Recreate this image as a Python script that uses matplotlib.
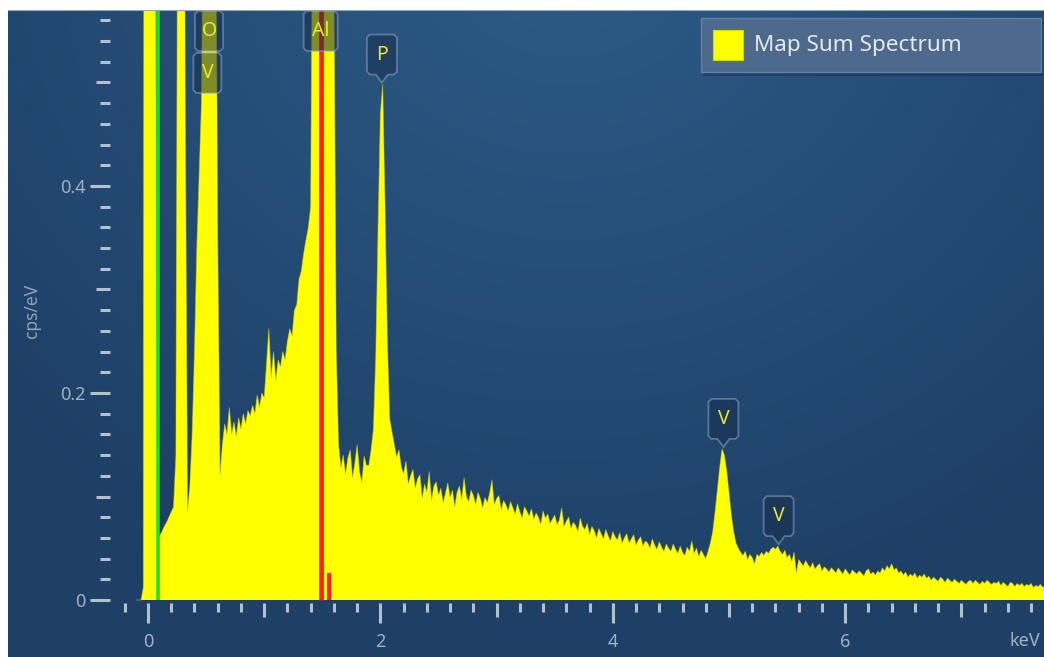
import numpy as np
import matplotlib
matplotlib.use("Agg")
import matplotlib.pyplot as plt
import matplotlib.transforms as mtransforms
from matplotlib.patches import Polygon, Rectangle, FancyBboxPatch
from matplotlib.ticker import FixedLocator

plt.rcParams['font.family'] = ['Noto Sans', 'DejaVu Sans']

# spectrum, cps/eV, one value every 0.02 keV starting at -0.10 keV
energy_start = -0.10
energy_step = 0.02
counts = [
    0.0, 0.0, 0.0, 0.012, 3.0, 5.0, 5.0, 3.0, 0.80, 0.063,
    0.062, 0.066, 0.071, 0.075, 0.080, 0.085, 0.090, 0.140, 0.90, 1.50,
    1.20, 0.50, 0.085, 0.11, 0.16, 0.24, 0.34, 0.41, 0.48, 0.75,
    1.20, 1.40, 1.30, 1.00, 0.75, 0.35, 0.12, 0.150, 0.170, 0.160,
    0.186, 0.160, 0.172, 0.158, 0.176, 0.165, 0.180, 0.170, 0.183, 0.178,
    0.188, 0.180, 0.198, 0.186, 0.200, 0.195, 0.228, 0.262, 0.215, 0.240,
    0.212, 0.232, 0.225, 0.240, 0.232, 0.250, 0.262, 0.255, 0.280, 0.285,
    0.310, 0.318, 0.335, 0.348, 0.360, 0.380, 0.75, 1.50, 3.00, 4.00,
    4.00, 3.00, 2.00, 1.50, 0.90, 0.60, 0.24, 0.150, 0.128, 0.140,
    0.121, 0.137, 0.145, 0.118, 0.132, 0.150, 0.124, 0.113, 0.139, 0.130,
    0.130, 0.145, 0.165, 0.235, 0.360, 0.470, 0.498, 0.380, 0.250, 0.175,
    0.162, 0.150, 0.138, 0.145, 0.128, 0.122, 0.134, 0.112, 0.120, 0.126,
    0.108, 0.117, 0.121, 0.098, 0.112, 0.104, 0.124, 0.096, 0.110, 0.114,
    0.101, 0.108, 0.094, 0.103, 0.113, 0.099, 0.106, 0.090, 0.104, 0.110,
    0.097, 0.118, 0.100, 0.095, 0.106, 0.101, 0.092, 0.104, 0.098, 0.089,
    0.099, 0.094, 0.103, 0.116, 0.092, 0.098, 0.101, 0.087, 0.096, 0.092,
    0.086, 0.095, 0.089, 0.083, 0.093, 0.085, 0.079, 0.090, 0.086, 0.081,
    0.088, 0.078, 0.084, 0.080, 0.073, 0.086, 0.079, 0.083, 0.074, 0.078,
    0.082, 0.073, 0.077, 0.089, 0.071, 0.076, 0.080, 0.069, 0.075, 0.072,
    0.066, 0.079, 0.071, 0.068, 0.074, 0.063, 0.071, 0.067, 0.060, 0.069,
    0.064, 0.059, 0.068, 0.062, 0.057, 0.066, 0.061, 0.058, 0.065, 0.055,
    0.060, 0.064, 0.055, 0.059, 0.063, 0.053, 0.058, 0.061, 0.052, 0.057,
    0.055, 0.050, 0.059, 0.053, 0.049, 0.056, 0.051, 0.047, 0.054, 0.050,
    0.047, 0.054, 0.049, 0.045, 0.052, 0.046, 0.043, 0.051, 0.047, 0.057,
    0.045, 0.050, 0.042, 0.048, 0.044, 0.040, 0.047, 0.055, 0.066, 0.085,
    0.106, 0.128, 0.146, 0.140, 0.125, 0.104, 0.082, 0.066, 0.055, 0.050,
    0.046, 0.043, 0.047, 0.039, 0.044, 0.041, 0.035, 0.044, 0.042, 0.046,
    0.043, 0.047, 0.045, 0.049, 0.051, 0.049, 0.052, 0.047, 0.044, 0.048,
    0.041, 0.044, 0.037, 0.046, 0.026, 0.039, 0.036, 0.033, 0.038, 0.034,
    0.031, 0.036, 0.030, 0.033, 0.035, 0.028, 0.032, 0.030, 0.027, 0.031,
    0.029, 0.026, 0.031, 0.028, 0.025, 0.030, 0.027, 0.024, 0.029, 0.027,
    0.025, 0.028, 0.026, 0.023, 0.028, 0.030, 0.025, 0.027, 0.024, 0.028,
    0.026, 0.031, 0.028, 0.033, 0.030, 0.035, 0.029, 0.031, 0.026, 0.028,
    0.024, 0.027, 0.022, 0.025, 0.023, 0.026, 0.021, 0.024, 0.022, 0.025,
    0.021, 0.023, 0.019, 0.022, 0.020, 0.018, 0.022, 0.020, 0.017, 0.021,
    0.019, 0.017, 0.020, 0.018, 0.016, 0.019, 0.017, 0.015, 0.018, 0.019,
    0.016, 0.019, 0.017, 0.015, 0.018, 0.016, 0.019, 0.017, 0.015, 0.017,
    0.016, 0.018, 0.014, 0.017, 0.015, 0.013, 0.017, 0.016, 0.013, 0.016,
    0.014, 0.016, 0.013, 0.015, 0.014, 0.016, 0.012, 0.014, 0.013, 0.015,
    0.012, 0.014,
]
energy = energy_start + energy_step * np.arange(len(counts))

# element markers: (label, energy keV)
peak_tags = ["P", "V", "V"]
peak_tag_energy = [2.013, 4.952, 5.427]
top_tags = [["O", "V"], ["Al"]]
top_tag_energy = [[0.525, 0.511], [1.486]]

al_ka = 1.486
al_kb = 1.557
al_kb_height = 0.026
zero_marker = 0.082

series_name = "Map Sum Spectrum"
x_major = [0, 2, 4, 6]
x_mid = [1, 3, 5, 7]
y_major = [0, 0.2, 0.4]
y_mid = [0.1, 0.3, 0.5]

W, H = 1044, 657
fig = plt.figure(figsize=(W / 100, H / 100), dpi=100, facecolor="white")

# dark blue gradient backdrop
bg = fig.add_axes([8 / W, 0, 1 - 8 / W, (H - 10) / H])
gy, gx = np.mgrid[0:H - 10, 0:W - 8]
d = np.sqrt(((gx - 560) / 780.0) ** 2 + ((gy + 80) / 720.0) ** 2)
t = np.clip(d, 0, 1)[..., None]
inner = np.array([44, 92, 136]) / 255
outer = np.array([30, 63, 102]) / 255
bg.imshow(inner * (1 - t) + outer * t, aspect="auto", interpolation="bilinear")
bg.axis("off")

# main axes, placed so 0 keV sits at x=148 px and 0 cps/eV at y=600 px
px_kev, px_cps = 116.2, 1035.0
x0_px, y0_px = 148, 600
left_px, right_px, top_px, bottom_px = 110, W, 10, 603
ax = fig.add_axes([left_px / W, (H - bottom_px) / H,
                   (right_px - left_px) / W, (bottom_px - top_px) / H])
ax.set_xlim((left_px - x0_px) / px_kev, (right_px - x0_px) / px_kev)
ax.set_ylim((y0_px - bottom_px) / px_cps, (y0_px - top_px) / px_cps)
ax.patch.set_visible(False)
for s in ax.spines.values():
    s.set_visible(False)
ytop = ax.get_ylim()[1]

ax.fill_between(energy, 0, counts, color="#ffff00", lw=0, zorder=2)
ax.plot(energy, counts, color="#d6d62a", lw=0.6, alpha=0.55, zorder=2.1)

ax.vlines(zero_marker, 0, ytop, color="#1fe01f", lw=2.6, zorder=3)
ax.vlines(al_ka, 0, ytop, color="#ff1e1e", lw=3.4, zorder=3)
ax.vlines(al_kb, 0, al_kb_height, color="#ff1e1e", lw=3.0, zorder=3)

# ticks
tick_col = "#b5c0cd"
lab_col = "#a3b1c3"
ax.xaxis.set_major_locator(FixedLocator(x_major))
ax.xaxis.set_minor_locator(FixedLocator(np.round(np.arange(-0.2, 7.8, 0.2), 2)))
ax.set_xticklabels([str(v) for v in x_major])
ax.yaxis.set_major_locator(FixedLocator(y_major))
ax.yaxis.set_minor_locator(FixedLocator(np.round(np.arange(0.02, 0.57, 0.02), 2)))
ax.set_yticklabels(["0", "0.2", "0.4"])
ax.tick_params(which="both", direction="out", color=tick_col, width=2.2,
               labelcolor=lab_col, labelsize=13)
ax.tick_params(axis="x", which="major", length=14.4, pad=7)
ax.tick_params(axis="x", which="minor", length=6.5)
ax.tick_params(axis="y", which="major", length=14.4, pad=3.5)
ax.tick_params(axis="y", which="minor", length=7.2)
for loc, tk in zip(ax.xaxis.get_minorticklocs(), ax.xaxis.get_minor_ticks()):
    if any(abs(loc - m) < 1e-6 for m in x_mid):
        tk.tick1line.set_markersize(10.1)
for loc, tk in zip(ax.yaxis.get_minorticklocs(), ax.yaxis.get_minor_ticks()):
    if any(abs(loc - m) < 1e-6 for m in y_mid):
        tk.tick1line.set_markersize(10.1)

ax.set_ylabel("cps/eV", color="#8fa2b8", fontsize=12.5)
ax.yaxis.set_label_coords((41 - left_px) / (right_px - left_px), (bottom_px - 311) / (bottom_px - top_px))
ax.set_xlabel("keV", color=lab_col, fontsize=13, loc="right")
ax.xaxis.set_label_coords(1 - 4 / (right_px - left_px), -(632 - bottom_px) / (bottom_px - top_px))

# element tags
face = (0.09, 0.18, 0.30, 0.55)
edge = (0.55, 0.64, 0.76, 0.55)
tag_col = "#ece62e"


def tag_verts(hw, y0, y1, pointer=0, c=3):
    v = []
    if pointer:
        v += [(0, y0 - pointer), (6, y0)]
    v += [(hw - c, y0), (hw, y0 + c), (hw, y1 - c), (hw - c, y1),
          (-hw + c, y1), (-hw, y1 - c), (-hw, y0 + c), (-hw + c, y0)]
    if pointer:
        v += [(-6, y0)]
    return v


for name, e in zip(peak_tags, peak_tag_energy):
    near = np.abs(energy - e) <= 0.03
    tip = max(np.array(counts)[near])
    tr = mtransforms.IdentityTransform() + mtransforms.ScaledTranslation(e, tip, ax.transData)
    tr = tr + mtransforms.Affine2D().translate(0, 2)
    ax.add_patch(Polygon(tag_verts(15, 8, 48, pointer=8), closed=True, transform=tr,
                         facecolor=face, edgecolor=edge, lw=1.3, zorder=5, clip_on=False))
    ax.text(0, 28, name, transform=tr, ha="center", va="center", color=tag_col,
            fontsize=14, zorder=6)

blend = mtransforms.blended_transform_factory(ax.transData, ax.transAxes)
for names, es in zip(top_tags, top_tag_energy):
    for k, (name, e) in enumerate(zip(names, es)):
        hw = 17 if len(name) > 1 else 14
        y1 = -1 - 42 * k
        y0 = y1 - 40
        tr = mtransforms.IdentityTransform() + mtransforms.ScaledTranslation(e, 1.0, blend)
        ax.add_patch(Polygon(tag_verts(hw, y0, y1), closed=True, transform=tr,
                             facecolor=face, edgecolor=edge, lw=1.3, zorder=5, clip_on=False))
        ax.text(0, (y0 + y1) / 2, name, transform=tr, ha="center", va="center",
                color=tag_col, fontsize=14, zorder=6)

# legend box, drawn in pixel space
ov = fig.add_axes([0, 0, 1, 1])
ov.set_xlim(0, W)
ov.set_ylim(H, 0)
ov.axis("off")
ov.add_patch(FancyBboxPatch((703, 22), 340, 54, boxstyle="square,pad=0",
                            facecolor=(0.05, 0.12, 0.22, 0.35), lw=0))
ov.add_patch(FancyBboxPatch((701, 18), 340, 54, boxstyle="square,pad=0",
                            facecolor="#4d6a8c", edgecolor="#6481a2", lw=1.0))
ov.add_patch(Rectangle((713, 30), 30, 30, facecolor="#ffff00", edgecolor="#d9d900", lw=0.8))
ov.text(754, 46, series_name, color="#e4e9ef", fontsize=16.2, va="center", ha="left")
ov.plot([8, W], [10, 10], color="#9aa6b3", lw=0.8)

fig.savefig("out.png", dpi=100, facecolor="white")
